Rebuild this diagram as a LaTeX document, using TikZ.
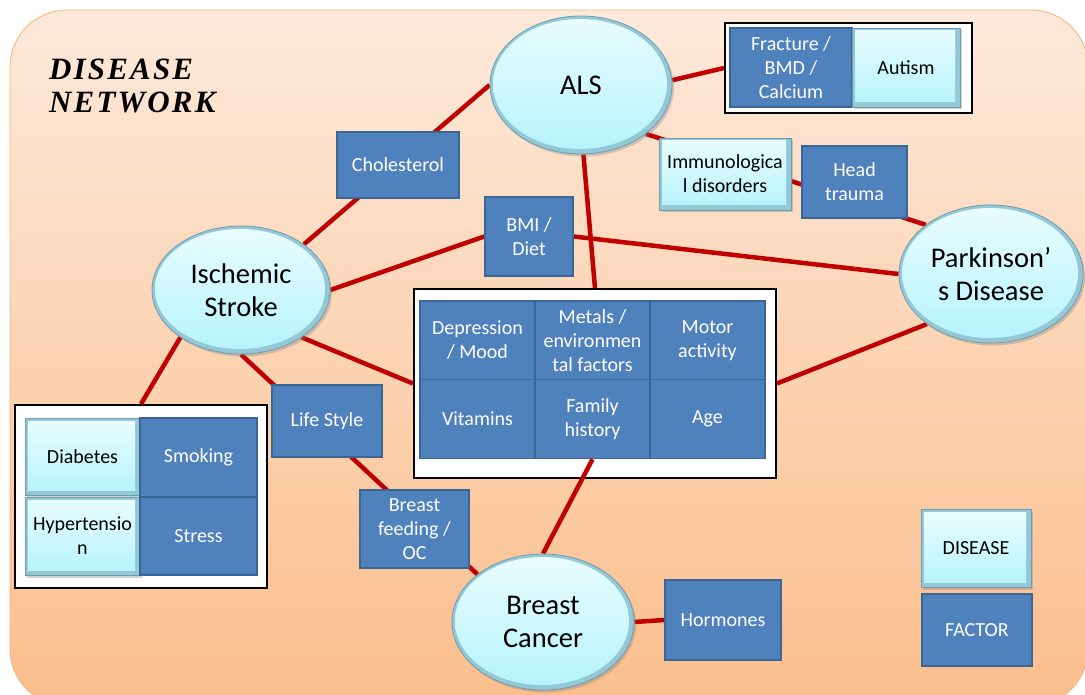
\documentclass[tikz,border=0pt]{standalone}
\usepackage{fontspec}
\setmainfont{Carlito}
\newfontfamily\headfont[LetterSpace=7]{Liberation Serif}
\usetikzlibrary{shapes.geometric,shadows,calc}

\definecolor{bgtop}{HTML}{FDE9DA}
\definecolor{bgbot}{HTML}{FBBE8C}
\definecolor{bgline}{HTML}{F7B27A}
\definecolor{factorfill}{HTML}{4F81BD}
\definecolor{factordraw}{HTML}{3A6595}
\definecolor{linkred}{HTML}{C00000}
\definecolor{disrim}{HTML}{95C8D6}
\definecolor{distop}{HTML}{E9FDFF}
\definecolor{disbot}{HTML}{B5F3FD}
\definecolor{disdraw}{HTML}{6F9DAE}

\pgfdeclarelayer{bg}
\pgfdeclarelayer{edges}
\pgfsetlayers{bg,edges,main}

\newcommand\factorfont{\fontsize{20}{24}\selectfont}
\newcommand\bigfont{\fontsize{28.5}{33}\selectfont}

\tikzset{
  factor/.style={rectangle, draw=factordraw, line width=1.5pt, fill=factorfill,
    text=white, font=\factorfont, align=center, inner sep=1pt},
  bevel/.style={drop shadow={shadow xshift=2pt, shadow yshift=-2.5pt, opacity=0.35},
    draw=disdraw, line width=0.8pt, fill=disrim, text=black, align=center, inner sep=1pt},
  disbox/.style={rectangle, bevel, font=\factorfont,
    path picture={\fill[top color=distop, bottom color=disbot]
      ([shift={(3pt,5pt)}]path picture bounding box.south west) rectangle
      ([shift={(-5pt,-3pt)}]path picture bounding box.north east);}},
  disell/.style={ellipse, bevel, font=\bigfont, inner sep=0pt,
    path picture={\fill[top color=distop, bottom color=disbot]
      let \p1=($(path picture bounding box.north east)-(path picture bounding box.center)$) in
      ([shift={(-1pt,1pt)}]path picture bounding box.center) ellipse ({\x1-4pt} and {\y1-4pt});}},
  boxframe/.style={rectangle, draw=black, line width=2pt, fill=white, inner sep=0pt},
  link/.style={draw=linkred, line width=4.5pt},
  headline/.style={anchor=base west, inner sep=0pt, font=\headfont\bfseries\itshape\fontsize{31}{36}\selectfont},
}

\begin{document}
\begin{tikzpicture}[x=1pt,y=-1pt]
\useasboundingbox (0,0) rectangle (1085,695);

% backdrop and the boxes that group several nodes
\begin{pgfonlayer}{bg}
  \shade[top color=bgtop, bottom color=bgbot, rounded corners=57pt] (10,10) rectangle (1088,706);
  \draw[bgline, line width=0.8pt, rounded corners=57pt] (10,10) rectangle (1088,706);
  \node[boxframe, minimum width=247pt, minimum height=90pt] (topbox) at (848.5,68) {};
  \node[boxframe, minimum width=362pt, minimum height=189pt] (midbox) at (595,383.5) {};
  \node[boxframe, minimum width=252pt, minimum height=183pt] (leftbox) at (141,496.5) {};
\end{pgfonlayer}

% title
\node[headline] (t1) at (49,80) {DISEASE};
\node[headline] (t2) at (49,113) {NETWORK};

% diseases
\node[disell, minimum width=182pt, minimum height=138pt] (als) at (581,85) {ALS};
\node[disell, minimum width=178pt, minimum height=128pt] (isch) at (241,290) {Ischemic\\Stroke};
\node[disell, minimum width=184pt, minimum height=138pt] (park) at (991,274) {Parkinson’\\s Disease};
\node[disell, minimum width=182pt, minimum height=136pt] (bc) at (543,622) {Breast\\Cancer};

% factors
\node[factor, minimum width=122pt, minimum height=66pt] (chol) at (398,165) {Cholesterol};
\node[factor, minimum width=88pt, minimum height=79pt] (bmi) at (529,236.5) {BMI /\\Diet};
\node[factor, minimum width=110pt, minimum height=72pt] (life) at (327,421) {Life Style};
\node[factor, minimum width=109pt, minimum height=78pt] (feed) at (414.5,529) {Breast\\feeding /\\OC};
\node[factor, minimum width=116pt, minimum height=80pt] (horm) at (723,620) {Hormones};
\node[factor, minimum width=105pt, minimum height=72pt] (head) at (854.5,182) {Head\\trauma};
\node[disbox, minimum width=132pt, minimum height=72pt] (immu) at (725,174) {Immunologica\\l disorders};

% top right group
\node[factor, minimum width=122pt, minimum height=79pt] (frac) at (791,67.5) {Fracture /\\BMD /\\Calcium};
\node[disbox, minimum width=108pt, minimum height=79pt] (aut) at (906,67.5) {Autism};

% central group
\node[factor, minimum width=115pt, minimum height=79pt] (dep) at (477.5,340.5) {Depression\\/ Mood};
\node[factor, minimum width=115pt, minimum height=79pt] (met) at (592.5,340.5) {Metals /\\environmen\\tal factors};
\node[factor, minimum width=115pt, minimum height=79pt] (mot) at (707.5,340.5) {Motor\\activity};
\node[factor, minimum width=115pt, minimum height=79pt] (vit) at (477.5,419) {Vitamins};
\node[factor, minimum width=115pt, minimum height=79pt] (fam) at (592.5,419) {Family\\history};
\node[factor, minimum width=115pt, minimum height=79pt] (age) at (707.5,419) {Age};

% left group
\node[disbox, minimum width=115pt, minimum height=77pt] (diab) at (82.5,456.5) {Diabetes};
\node[factor, minimum width=117pt, minimum height=79pt] (smok) at (198.5,457.5) {Smoking};
\node[disbox, minimum width=115pt, minimum height=78pt] (hyp) at (82.5,536) {Hypertensio\\n};
\node[factor, minimum width=117pt, minimum height=78pt] (stre) at (198.5,536) {Stress};

% legend
\node[disbox, minimum width=110pt, minimum height=78pt] (legd) at (976,548) {DISEASE};
\node[factor, minimum width=110pt, minimum height=72pt] (legf) at (977,630) {FACTOR};

% connections
\begin{pgfonlayer}{edges}
  \draw[link] (als.3) -- (topbox.west);
  \draw[link] (als.180) -- (isch.36);
  \draw[link] (als.-37) -- (park.143);
  \draw[link] (als.-88) -- (midbox.north);
  \draw[link] (isch.0) -- (bmi.west);
  \draw[link] (bmi.east) -- (park.west);
  \draw[link] (isch.-38) -- (midbox.west);
  \draw[link] (isch.-90) -- (bc.144);
  \draw[link] (isch.218) -- (leftbox.north);
  \draw[link] (midbox.east) -- (park.218);
  \draw[link] (fam.south) -- (bc.north);
  \draw[link] (bc.east) -- (horm.west);
\end{pgfonlayer}
\end{tikzpicture}
\end{document}
